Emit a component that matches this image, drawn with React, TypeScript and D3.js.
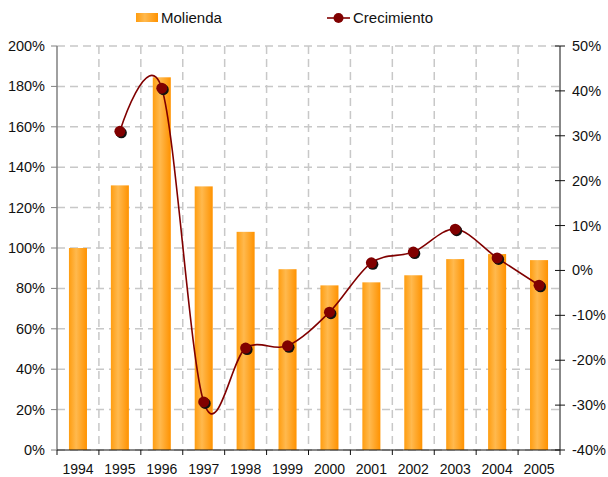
import React from "react";
import * as d3 from "d3";

const years = ["1994","1995","1996","1997","1998","1999","2000","2001","2002","2003","2004","2005"];
const molienda = [100, 131, 184.5, 130.5, 108, 89.5, 81.5, 83, 86.5, 94.5, 97, 94];
const crecimiento: (number | null)[] = [null, 31, 40.6, -29.3, -17.3, -16.8, -9.3, 1.7, 4.1, 9.2, 2.8, -3.3];
const leftTicks = [0, 20, 40, 60, 80, 100, 120, 140, 160, 180, 200];
const rightTicks = [-40, -30, -20, -10, 0, 10, 20, 30, 40, 50];
const seriesNames = ["Molienda", "Crecimiento"];

const W = 608, H = 477;
const L = 57, R = 560, T = 46, B = 450;
const font = "'Liberation Sans', Arial, Helvetica, sans-serif";

export default function App() {
  const x = d3.scaleBand<string>().domain(years).range([L, R]).padding(0);
  const yL = d3.scaleLinear().domain([0, 200]).range([B, T]);
  const yR = d3.scaleLinear().domain([-40, 50]).range([B, T]);
  const bw = x.bandwidth() * 0.43;
  const cx = (y: string) => (x(y) as number) + x.bandwidth() / 2;

  const pts = years
    .map((yr, i) => ({ yr, v: crecimiento[i] }))
    .filter((d) => d.v !== null) as { yr: string; v: number }[];
  const line = d3
    .line<{ yr: string; v: number }>()
    .x((d) => cx(d.yr))
    .y((d) => yR(d.v))
    .curve(d3.curveCardinal.tension(0));

  const boundaries = years.map((_, i) => L + x.step() * i).concat([R]);
  const grid = "#c8c8c8";

  return (
    <svg width={W} height={H} style={{ position: "absolute", left: 0, top: 0 }} fontFamily={font}>
      <defs>
        <linearGradient id="barGrad" x1="0" x2="1" y1="0" y2="0">
          <stop offset="0" stopColor="#ff9d10" />
          <stop offset="0.4" stopColor="#ffb94e" />
          <stop offset="1" stopColor="#ff9200" />
        </linearGradient>
      </defs>
      <rect x={0} y={0} width={W} height={H} fill="#fff" />

      {leftTicks.map((t) => (
        <line key={"hg" + t} x1={L} x2={R} y1={yL(t)} y2={yL(t)} stroke={grid} strokeWidth={1.5} strokeDasharray="8,5" />
      ))}
      {boundaries.slice(1, -1).map((bx, i) => (
        <line key={"vg" + i} x1={bx} x2={bx} y1={T} y2={B} stroke={grid} strokeWidth={1.5} strokeDasharray="8,5" />
      ))}

      {years.map((yr, i) => (
        <rect key={"b" + yr} x={cx(yr) - bw / 2} y={yL(molienda[i])} width={bw} height={B - yL(molienda[i])} fill="url(#barGrad)" />
      ))}

      <path d={line(pts) || ""} fill="none" stroke="#800000" strokeWidth={1.6} />
      {pts.map((d) => (
        <circle key={"s" + d.yr} cx={cx(d.yr) + 1.5} cy={yR(d.v) + 1.5} r={5.5} fill="#111" />
      ))}
      {pts.map((d) => (
        <circle key={"m" + d.yr} cx={cx(d.yr)} cy={yR(d.v)} r={5.5} fill="#800000" />
      ))}

      <line x1={L} x2={L} y1={T} y2={B} stroke="#808080" strokeWidth={1.5} />
      {leftTicks.map((t) => (
        <g key={"lt" + t}>
          <line x1={L - 6} x2={L} y1={yL(t)} y2={yL(t)} stroke="#808080" strokeWidth={1} />
          <text x={L - 12} y={yL(t) + 5} textAnchor="end" fontSize={14.5} fill="#111">{t + "%"}</text>
        </g>
      ))}

      <line x1={R} x2={R} y1={T} y2={B} stroke="#111" strokeWidth={1} />
      {rightTicks.map((t) => (
        <g key={"rt" + t}>
          <line x1={R - 5} x2={R + 5} y1={yR(t)} y2={yR(t)} stroke="#111" strokeWidth={1} />
          <text x={R + 12} y={yR(t) + 5} textAnchor="start" fontSize={14.5} fill="#111">{t + "%"}</text>
        </g>
      ))}

      <line x1={L} x2={R} y1={B} y2={B} stroke="#111" strokeWidth={1} />
      {boundaries.map((bx, i) => (
        <line key={"bt" + i} x1={bx} x2={bx} y1={B} y2={B + 5} stroke="#111" strokeWidth={1} />
      ))}
      {years.map((yr) => (
        <text key={"xl" + yr} x={cx(yr)} y={B + 24} textAnchor="middle" fontSize={14} fill="#111">{yr}</text>
      ))}

      <rect x={136} y={13} width={22} height={9} fill="url(#barGrad)" />
      <text x={161} y={23} fontSize={15} fill="#111">{seriesNames[0]}</text>
      <line x1={327} x2={350} y1={18} y2={18} stroke="#800000" strokeWidth={1.6} />
      <circle cx={338.5} cy={18} r={5} fill="#800000" />
      <text x={353} y={23} fontSize={15} fill="#111">{seriesNames[1]}</text>
    </svg>
  );
}
